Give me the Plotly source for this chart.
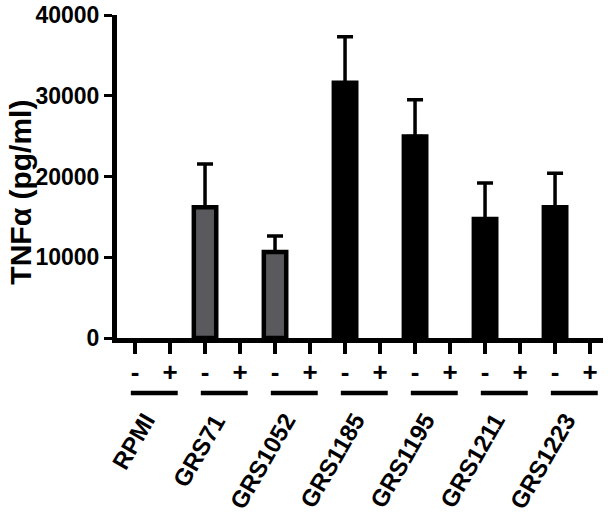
import plotly.graph_objects as go

groups = ["RPMI", "GRS71", "GRS1052", "GRS1185", "GRS1195", "GRS1211", "GRS1223"]
conditions = ["-", "+"]
minus_vals = [0, 16200, 10650, 31600, 24950, 14750, 16200]
minus_err = [0, 5350, 1980, 5700, 4550, 4450, 4200]
plus_vals = [0, 0, 0, 0, 0, 0, 0]
plus_err = [0, 0, 0, 0, 0, 0, 0]
group_colors = ["#000000", "#5a5a5e", "#5a5a5e", "#000000", "#000000", "#000000", "#000000"]
y_ticks = [0, 10000, 20000, 30000, 40000]
y_title = "TNFα (pg/ml)"

xs, ys, es, cols, tt = [], [], [], [], []
for i, g in enumerate(groups):
    for j, c in enumerate(conditions):
        v = minus_vals[i] if j == 0 else plus_vals[i]
        e = minus_err[i] if j == 0 else plus_err[i]
        xs.append(2 * i + j)
        ys.append(v if v > 0 else None)
        es.append(e if v > 0 else None)
        cols.append(group_colors[i])
        tt.append(c)

fig = go.Figure()
fig.add_trace(go.Bar(
    x=xs, y=ys, width=0.64,
    marker=dict(color=cols, line=dict(color="black", width=4.5)),
    error_y=dict(type="data", array=es, arrayminus=[0] * len(es), symmetric=False,
                 color="black", thickness=3.5, width=8),
    showlegend=False, hoverinfo="skip",
))

font_main = "Arial, Liberation Sans, sans-serif"

shapes = []
annotations = []
for i, g in enumerate(groups):
    shapes.append(dict(type="line", xref="x", yref="paper",
                       x0=2 * i - 0.12, x1=2 * i + 1 + 0.22, y0=-0.170, y1=-0.170,
                       line=dict(color="black", width=4.5)))
    annotations.append(dict(x=2 * i + 0.8, y=-0.212, xref="x", yref="paper",
                            text="<b>%s</b>" % g, showarrow=False, textangle=-60,
                            xanchor="right", yanchor="top",
                            font=dict(family=font_main, size=24, color="black")))

annotations.append(dict(x=0, y=0.45, xref="paper", yref="paper", xshift=-96,
                        xanchor="center", yanchor="middle",
                        text="<b>%s</b>" % y_title, showarrow=False, textangle=-90,
                        font=dict(family=font_main, size=30, color="black")))

fig.update_layout(
    width=613, height=526,
    margin=dict(l=117, r=10, t=15, b=188),
    paper_bgcolor="white", plot_bgcolor="white",
    font=dict(family=font_main, color="black"),
    hovermode=False,
    xaxis=dict(range=[-0.515, 13.37], tickmode="array", tickvals=xs,
               ticktext=["<b>%s</b>" % t for t in tt],
               ticks="outside", ticklen=11, tickwidth=4, tickcolor="black",
               showline=True, linewidth=5, linecolor="black", showgrid=False,
               zeroline=False, tickfont=dict(size=26, family=font_main),
               ticklabelstandoff=-4, automargin=False),
    yaxis=dict(range=[0, 40000], tickvals=y_ticks, ticktext=["<b>%d</b>" % v for v in y_ticks],
               ticks="outside", ticklen=8, tickwidth=3, tickcolor="black",
               showline=True, linewidth=5, linecolor="black", showgrid=False,
               zeroline=False, tickfont=dict(size=23, family=font_main), automargin=False,
               ticklabeloverflow="allow"),
    shapes=shapes,
    annotations=annotations,
    bargap=0,
)

fig.write_html("out.html", config={"displayModeBar": False, "staticPlot": True},
               post_script="document.body.style.margin='0';document.body.style.overflow='hidden';")
